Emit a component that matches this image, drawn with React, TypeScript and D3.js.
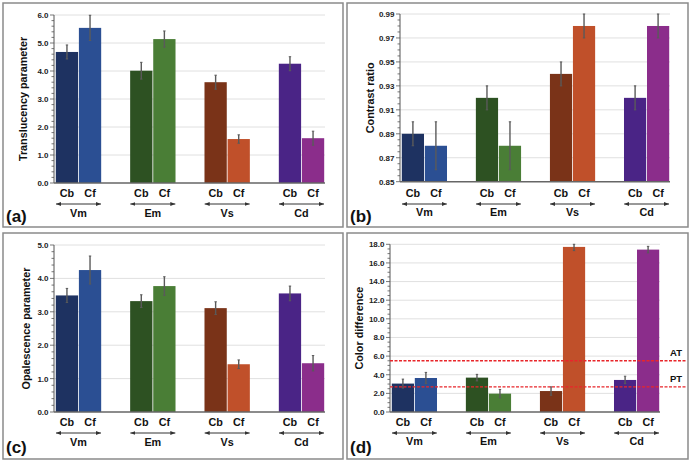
import React, { useEffect, useRef } from 'react';
import * as d3 from 'd3';

// materials (groups) and the two conditions shown for each
const groups = ['Vm', 'Em', 'Vs', 'Cd'];
const subgroups = ['Cb', 'Cf'];
const cbColors = ['#1e3261', '#2d5122', '#7a3318', '#4a2486'];
const cfColors = ['#2b4f93', '#4a7e36', '#c0502a', '#8b2d8b'];

// (a) translucency parameter
const tpCb = [4.68, 4.01, 3.6, 4.26];
const tpCbSd = [0.25, 0.3, 0.25, 0.25];
const tpCf = [5.54, 5.14, 1.57, 1.6];
const tpCfSd = [0.45, 0.29, 0.15, 0.25];
const tpTicks = [0, 1, 2, 3, 4, 5, 6];

// (b) contrast ratio
const crCb = [0.89, 0.92, 0.94, 0.92];
const crCbSd = [0.01, 0.01, 0.01, 0.01];
const crCf = [0.88, 0.88, 0.98, 0.98];
const crCfSd = [0.02, 0.02, 0.01, 0.01];
const crTicks = [0.85, 0.87, 0.89, 0.91, 0.93, 0.95, 0.97, 0.99];

// (c) opalescence parameter
const opCb = [3.49, 3.32, 3.11, 3.55];
const opCbSd = [0.21, 0.19, 0.19, 0.22];
const opCf = [4.25, 3.77, 1.43, 1.46];
const opCfSd = [0.42, 0.28, 0.13, 0.23];
const opTicks = [0, 1, 2, 3, 4, 5];

// (d) color difference + thresholds
const cdCb = [3.05, 3.69, 2.25, 3.44];
const cdCbSd = [0.48, 0.35, 0.45, 0.4];
const cdCf = [3.65, 1.97, 17.72, 17.43];
const cdCfSd = [0.6, 0.45, 0.4, 0.35];
const cdTicks = [0, 2, 4, 6, 8, 10, 12, 14, 16, 18];
const thresholdNames = ['AT', 'PT'];
const thresholdValues = [5.5, 2.7];

const font = '"Liberation Sans", Arial, sans-serif';

const panels = [
  { tag: '(a)', box: [3, 3, 343, 227], axisX: 54, yTop: 15, yBot: 183, barsEnd: 325, lineEnd: 325,
    ticks: tpTicks, fmt: d3.format('.1f'), minor: 5, title: 'Translucency parameter', titleX: 27,
    cb: tpCb, cbSd: tpCbSd, cf: tpCf, cfSd: tpCfSd, subY: 196.5, arrowY: 204, groupY: 217, tagY: 222 },
  { tag: '(b)', box: [347, 3, 688, 227], axisX: 400, yTop: 14, yBot: 181.7, barsEnd: 670, lineEnd: 670,
    ticks: crTicks, fmt: d3.format('.2f'), minor: 4, title: 'Contrast ratio', titleX: 374,
    cb: crCb, cbSd: crCbSd, cf: crCf, cfSd: crCfSd, subY: 196.5, arrowY: 204, groupY: 216, tagY: 222 },
  { tag: '(c)', box: [3, 233, 343, 459], axisX: 54, yTop: 245, yBot: 412, barsEnd: 325, lineEnd: 325,
    ticks: opTicks, fmt: d3.format('.1f'), minor: 5, title: 'Opalescence parameter', titleX: 30,
    cb: opCb, cbSd: opCbSd, cf: opCf, cfSd: opCfSd, subY: 426, arrowY: 433, groupY: 446, tagY: 453 },
  { tag: '(d)', box: [347, 233, 688, 459], axisX: 390, yTop: 244.3, yBot: 412, barsEnd: 660, lineEnd: 660,
    ticks: cdTicks, fmt: d3.format('.1f'), minor: 4, title: 'Color difference', titleX: 363,
    cb: cdCb, cbSd: cdCbSd, cf: cdCf, cfSd: cdCfSd, subY: 426, arrowY: 433, groupY: 444.5, tagY: 453,
    refs: true },
];

const App = () => {
  const ref = useRef<HTMLDivElement>(null);

  useEffect(() => {
    const root = d3.select(ref.current);
    root.selectAll('*').remove();
    const svg = root.append('svg')
      .attr('width', 690).attr('height', 462)
      .style('position', 'absolute').style('left', 0).style('top', 0)
      .style('font-family', font);

    svg.append('rect').attr('width', 690).attr('height', 462).attr('fill', '#fff');

    svg.append('defs').append('marker')
      .attr('id', 'arr')
      .attr('markerUnits', 'userSpaceOnUse')
      .attr('markerWidth', 6).attr('markerHeight', 6)
      .attr('refX', 5).attr('refY', 2)
      .attr('orient', 'auto-start-reverse')
      .append('path').attr('d', 'M0,0 L5,2 L0,4 Z').attr('fill', '#333');

    panels.forEach(p => {
      const g = svg.append('g');
      const [bx0, by0, bx1, by1] = p.box;
      g.append('rect')
        .attr('x', bx0).attr('y', by0).attr('width', bx1 - bx0).attr('height', by1 - by0)
        .attr('fill', 'none').attr('stroke', '#8a8a8a').attr('stroke-width', 1.5);

      const lo = p.ticks[0];
      const hi = p.ticks[p.ticks.length - 1];
      const y = d3.scaleLinear().domain([lo, hi]).range([p.yBot, p.yTop]);
      const x = d3.scaleBand().domain(groups).range([p.axisX + 1, p.barsEnd])
        .paddingInner(0.368).paddingOuter(0);
      const xs = d3.scaleBand().domain(subgroups).range([0, x.bandwidth()]).padding(0.035);

      // gridlines
      g.selectAll('.grid').data(p.ticks.slice(1)).enter().append('line')
        .attr('x1', p.axisX).attr('x2', p.lineEnd)
        .attr('y1', d => y(d)).attr('y2', d => y(d))
        .attr('stroke', '#e0e0e0').attr('stroke-width', 1);

      // minor ticks
      const step = (p.ticks[1] - p.ticks[0]) / p.minor;
      const minorVals = d3.range(0, (p.ticks.length - 1) * p.minor + 1).map(i => lo + i * step);
      g.selectAll('.mt').data(minorVals).enter().append('line')
        .attr('x1', (d, i) => p.axisX - (i % p.minor === 0 ? 4 : 2.5)).attr('x2', p.axisX)
        .attr('y1', d => y(d)).attr('y2', d => y(d))
        .attr('stroke', '#555').attr('stroke-width', 0.8);

      g.selectAll('.tl').data(p.ticks).enter().append('text')
        .attr('x', p.axisX - 5.5).attr('y', d => y(d) + 2.9)
        .attr('text-anchor', 'end')
        .style('font-size', '8px').style('font-weight', 700).attr('fill', '#222')
        .text(d => p.fmt(d));

      // bars
      const rows = groups.flatMap((gr, i) => [
        { gr, sub: 'Cb', v: p.cb[i], e: p.cbSd[i], c: cbColors[i] },
        { gr, sub: 'Cf', v: p.cf[i], e: p.cfSd[i], c: cfColors[i] },
      ]);
      g.selectAll('.bar').data(rows).enter().append('rect')
        .attr('x', d => (x(d.gr) as number) + (xs(d.sub) as number))
        .attr('width', xs.bandwidth())
        .attr('y', d => y(d.v))
        .attr('height', d => y(lo) - y(d.v))
        .attr('fill', d => d.c);

      // error bars
      const cx = d => (x(d.gr) as number) + (xs(d.sub) as number) + xs.bandwidth() / 2;
      const eb = g.selectAll('.eb').data(rows).enter().append('g');
      eb.append('line')
        .attr('x1', cx).attr('x2', cx)
        .attr('y1', d => y(Math.min(d.v + d.e, hi))).attr('y2', d => y(d.v - d.e))
        .attr('stroke', '#5a5a5a').attr('stroke-width', 1.4);
      [1, -1].forEach(s => {
        eb.append('line')
          .attr('x1', d => cx(d) - 1.2).attr('x2', d => cx(d) + 1.2)
          .attr('y1', d => y(Math.min(d.v + s * d.e, hi))).attr('y2', d => y(Math.min(d.v + s * d.e, hi)))
          .attr('stroke', '#5a5a5a').attr('stroke-width', 1);
      });

      // axes lines
      g.append('line').attr('x1', p.axisX).attr('x2', p.axisX)
        .attr('y1', p.yTop).attr('y2', p.yBot).attr('stroke', '#555').attr('stroke-width', 1);
      g.append('line').attr('x1', p.axisX).attr('x2', p.lineEnd)
        .attr('y1', p.yBot).attr('y2', p.yBot).attr('stroke', '#666').attr('stroke-width', 1.5);

      // reference lines (d)
      if (p.refs) {
        thresholdValues.forEach((v, i) => {
          g.append('line').attr('x1', p.axisX).attr('x2', bx1 - 2)
            .attr('y1', y(v)).attr('y2', y(v))
            .attr('stroke', '#e8262b').attr('stroke-width', 1.4).attr('stroke-dasharray', '3,1.5');
          g.append('text').attr('x', 676).attr('y', y(v) - 4.5)
            .attr('text-anchor', 'middle')
            .style('font-size', '9.5px').style('font-weight', 700).attr('fill', '#111')
            .text(thresholdNames[i]);
        });
      }

      // sub labels
      g.selectAll('.sl').data(rows).enter().append('text')
        .attr('x', cx).attr('y', p.subY)
        .attr('text-anchor', 'middle')
        .style('font-size', '10.8px').style('font-weight', 700).attr('fill', '#111')
        .text(d => d.sub);

      // group arrows + names
      groups.forEach(gr => {
        const gx = x(gr) as number;
        g.append('line')
          .attr('x1', gx + 1).attr('x2', gx + x.bandwidth() - 1)
          .attr('y1', p.arrowY).attr('y2', p.arrowY)
          .attr('stroke', '#333').attr('stroke-width', 1)
          .attr('marker-start', 'url(#arr)').attr('marker-end', 'url(#arr)');
        g.append('text')
          .attr('x', gx + x.bandwidth() / 2).attr('y', p.groupY)
          .attr('text-anchor', 'middle')
          .style('font-size', '10.8px').style('font-weight', 700).attr('fill', '#111')
          .text(gr);
      });

      // y title
      g.append('text')
        .attr('transform', `translate(${p.titleX},${(p.yTop + p.yBot) / 2}) rotate(-90)`)
        .attr('text-anchor', 'middle')
        .style('font-size', '10.8px').style('font-weight', 700).attr('fill', '#111')
        .text(p.title);

      // panel tag
      g.append('text')
        .attr('x', bx0 + 3).attr('y', p.tagY)
        .style('font-size', '17px').style('font-weight', 700).attr('fill', '#111')
        .text(p.tag);
    });

    return () => { root.selectAll('*').remove(); };
  }, []);

  return <div ref={ref}></div>;
};

export default App;
